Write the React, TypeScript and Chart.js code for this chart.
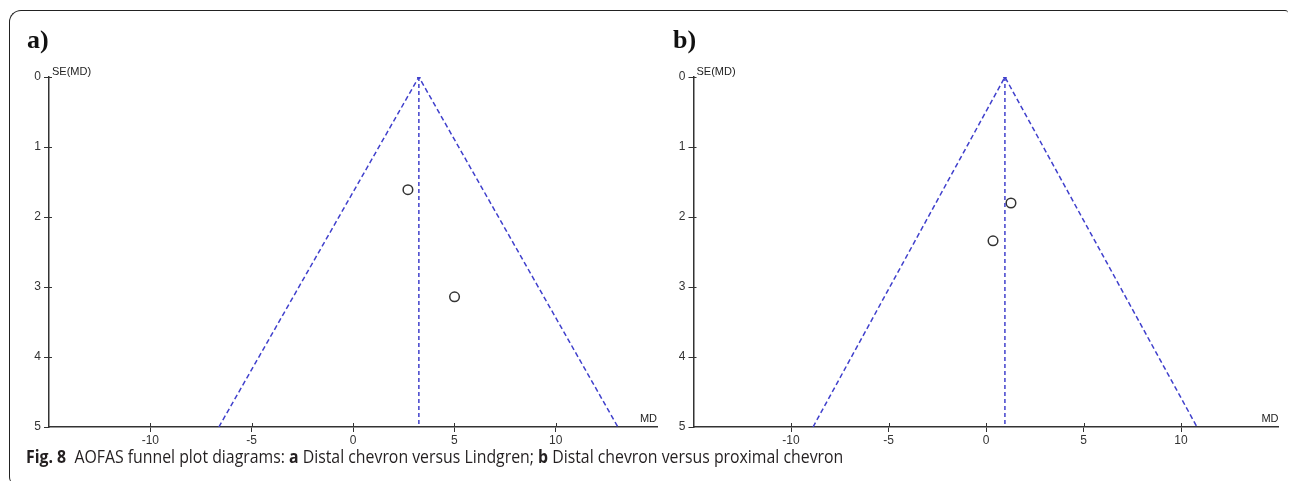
import React, { useEffect, useRef } from 'react';
import { Chart, registerables } from 'chart.js';
Chart.register(...registerables);

// axis ticks
const xTicks = [-10, -5, 0, 5, 10];
const yTicks = [0, 1, 2, 3, 4, 5];
const xMin = -15;
const xMax = 15;
const seMax = 5;

// panel a: Distal chevron versus Lindgren
const aStudyMD = [2.71, 5.01];
const aStudySE = [1.61, 3.14];
const aPooled = 3.25;
const aFunnelLow = -6.62;
const aFunnelHigh = 13.07;

// panel b: Distal chevron versus proximal chevron
const bStudyMD = [1.28, 0.36];
const bStudySE = [1.8, 2.34];
const bPooled = 0.97;
const bFunnelLow = -8.87;
const bFunnelHigh = 10.82;

const BLUE = '#4040cc';
const AXIS = '#333333';
const TICKFONT = '"Liberation Sans", Arial, sans-serif';

type PanelProps = {
  letter: string;
  md: number[];
  se: number[];
  pooled: number;
  low: number;
  high: number;
  left: number;
  width: number;
  padLeft: number;
  padRight: number;
  letterX: number;
};

function FunnelPanel(p: PanelProps) {
  const ref = useRef<HTMLCanvasElement | null>(null);
  useEffect(() => {
    const canvas = ref.current;
    if (!canvas) return;
    const extra = {
      id: 'extra',
      afterDraw(chart: any) {
        const ctx = chart.ctx;
        const area = chart.chartArea;
        const xs = chart.scales.x;
        const ys = chart.scales.y;
        ctx.save();
        ctx.strokeStyle = AXIS;
        ctx.lineWidth = 1;
        // inner parts of tick marks
        ctx.beginPath();
        xTicks.forEach((v) => {
          const px = Math.round(xs.getPixelForValue(v)) + 0.5;
          ctx.moveTo(px, area.bottom);
          ctx.lineTo(px, area.bottom - 4);
        });
        yTicks.forEach((v) => {
          if (v === 5) return;
          const py = Math.round(ys.getPixelForValue(v)) + 0.5;
          ctx.moveTo(area.left, py);
          ctx.lineTo(area.left + 3, py);
        });
        ctx.stroke();
        // axis titles
        ctx.fillStyle = '#222';
        ctx.font = '11px ' + TICKFONT;
        ctx.textAlign = 'left';
        ctx.textBaseline = 'alphabetic';
        ctx.fillText('SE(MD)', area.left + 3, area.top - 2);
        ctx.textAlign = 'right';
        ctx.fillText('MD', area.right, area.bottom - 5);
        // panel letter
        ctx.fillStyle = '#111';
        ctx.font = 'bold 26px "Liberation Serif", "Times New Roman", serif';
        ctx.textAlign = 'left';
        ctx.fillText(p.letter, p.letterX, 48);
        ctx.restore();
      },
    };
    const chart = new Chart(canvas, {
      type: 'scatter',
      data: {
        datasets: [
          {
            type: 'line',
            data: [
              { x: p.low, y: seMax },
              { x: p.pooled, y: 0 },
              { x: p.high, y: seMax },
            ],
            borderColor: BLUE,
            borderWidth: 1.5,
            borderDash: [5, 3],
            pointRadius: [0, 2, 0],
            pointBackgroundColor: BLUE,
            pointBorderWidth: 0,
            fill: false,
            tension: 0,
          } as any,
          {
            type: 'line',
            data: [
              { x: p.pooled, y: 0 },
              { x: p.pooled, y: seMax },
            ],
            borderColor: BLUE,
            borderWidth: 1.5,
            borderDash: [4, 3],
            pointRadius: 0,
            fill: false,
            tension: 0,
          } as any,
          {
            type: 'scatter',
            data: p.md.map((x, i) => ({ x, y: p.se[i] })),
            pointRadius: 4.8,
            pointBorderColor: '#333',
            pointBackgroundColor: 'rgba(0,0,0,0)',
            pointBorderWidth: 1.5,
          } as any,
        ],
      },
      options: {
        responsive: false,
        maintainAspectRatio: false,
        animation: false,
        devicePixelRatio: 1,
        layout: { padding: { left: p.padLeft, right: p.padRight, top: 77, bottom: 24 } },
        plugins: { legend: { display: false }, tooltip: { enabled: false } },
        scales: {
          x: {
            type: 'linear',
            min: xMin,
            max: xMax,
            afterBuildTicks: (s: any) => {
              s.ticks = xTicks.map((v) => ({ value: v }));
            },
            afterFit: (s: any) => {
              s.height = 30;
            },
            ticks: {
              font: { family: TICKFONT, size: 12 },
              color: '#333',
              padding: 1,
              maxRotation: 0,
              autoSkip: false,
            },
            grid: { drawOnChartArea: false, tickLength: 5, color: AXIS, lineWidth: 1 },
            border: { color: AXIS, width: 1.5 },
          },
          y: {
            type: 'linear',
            reverse: true,
            min: 0,
            max: seMax,
            afterBuildTicks: (s: any) => {
              s.ticks = yTicks.map((v) => ({ value: v }));
            },
            afterFit: (s: any) => {
              s.width = 30;
            },
            ticks: {
              font: { family: TICKFONT, size: 12 },
              color: '#333',
              padding: 3,
              autoSkip: false,
            },
            grid: { drawOnChartArea: false, tickLength: 5, color: AXIS, lineWidth: 1 },
            border: { color: AXIS, width: 1.5 },
          },
        },
      } as any,
      plugins: [extra],
    });
    return () => chart.destroy();
  }, []);
  return (
    <canvas
      ref={ref}
      width={p.width}
      height={481}
      style={{ position: 'absolute', left: p.left, top: 0, width: p.width, height: 481 }}
    />
  );
}

export default function App() {
  return (
    <div
      style={{
        position: 'fixed',
        left: 0,
        top: 0,
        width: 1290,
        height: 481,
        background: '#fff',
        overflow: 'hidden',
      }}
    >
      <div
        style={{
          position: 'absolute',
          left: 9,
          top: 10,
          width: 1278,
          height: 474,
          borderTop: '1.5px solid #222',
          borderLeft: '1.5px solid #222',
          borderTopLeftRadius: 12,
          borderBottomLeftRadius: 8,
          borderTopRightRadius: 3,
        }}
      />
      <FunnelPanel
        letter="a)"
        md={aStudyMD}
        se={aStudySE}
        pooled={aPooled}
        low={aFunnelLow}
        high={aFunnelHigh}
        left={0}
        width={680}
        padLeft={19}
        padRight={23}
        letterX={27}
      />
      <FunnelPanel
        letter="b)"
        md={bStudyMD}
        se={bStudySE}
        pooled={bPooled}
        low={bFunnelLow}
        high={bFunnelHigh}
        left={660}
        width={630}
        padLeft={3.5}
        padRight={11.5}
        letterX={13}
      />
      <div
        style={{
          position: 'absolute',
          left: 26,
          top: 447.5,
          font: '17.5px "Open Sans", "Noto Sans", sans-serif',
          lineHeight: '17.5px',
          color: '#231f20',
          whiteSpace: 'nowrap',
          transform: 'scaleX(0.905)',
          transformOrigin: 'left top',
        }}
      >
        <b>Fig. 8</b>
        {'\u00a0\u00a0'}AOFAS funnel plot diagrams: <b>a</b> Distal chevron versus Lindgren; <b>b</b> Distal chevron
        versus proximal chevron
      </div>
    </div>
  );
}
